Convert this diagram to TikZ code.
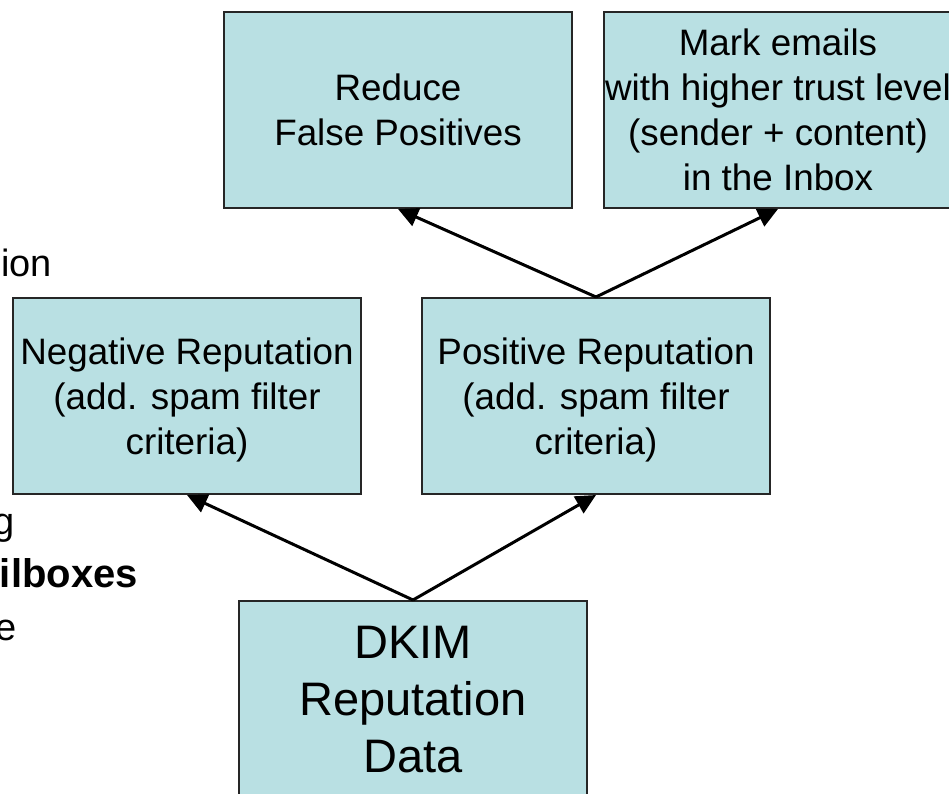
\documentclass[tikz,border=0pt]{standalone}
\usepackage{fontspec}
\setmainfont{Liberation Sans}
\usepackage{tikz}
\usetikzlibrary{positioning, arrows.meta}
\definecolor{boxfill}{RGB}{185,224,227}

\begin{document}
\begin{tikzpicture}[x=1pt, y=1pt,
  box/.style={draw=black!85, line width=2pt, fill=boxfill, align=center,
    minimum width=348pt, minimum height=196pt, inner sep=0pt,
    text depth=-4.5pt, font=\fontsize{36.8}{45}\selectfont},
  sidetext/.style={inner sep=0pt, anchor=base east,
    font=\fontsize{38}{45}\selectfont},
  link/.style={line width=3pt, -{Triangle[length=20pt, width=19pt]}}]
  \useasboundingbox (0,0) rectangle (949,793);
  \clip (0,0) rectangle (949,793);

  \node[box]                       (reduce) at (398,683) {Reduce\\False Positives};
  \node[box, right=30pt of reduce] (mark)   {Mark emails\\with higher trust level\\(sender + content)\\in the Inbox};
  \node[box]                       (neg)    at (187,397) {Negative Reputation\\(add. spam filter\\criteria)};
  \node[box, right=59pt of neg]    (pos)    {Positive Reputation\\(add. spam filter\\criteria)};
  \node[box, text depth=-9pt, font=\fontsize{47}{57}\selectfont] (dkim) at (413,94) {DKIM\\Reputation\\Data};

  \node[sidetext] (ion)   at (52,516)  {ion};
  \node[sidetext] (g)     at (15,259)  {g};
  \node[sidetext, font=\fontsize{40}{45}\selectfont\bfseries] (mbox) at (138,206) {ilboxes};
  \node[sidetext] (e)     at (17,153)  {e};

  \draw[link] (pos.north)  --  (reduce.south);
  \draw[link] (pos.north)  --  (mark.south);
  \draw[link] (dkim.north) --  (neg.south);
  \draw[link] (dkim.north) --  (pos.south);
\end{tikzpicture}
\end{document}
